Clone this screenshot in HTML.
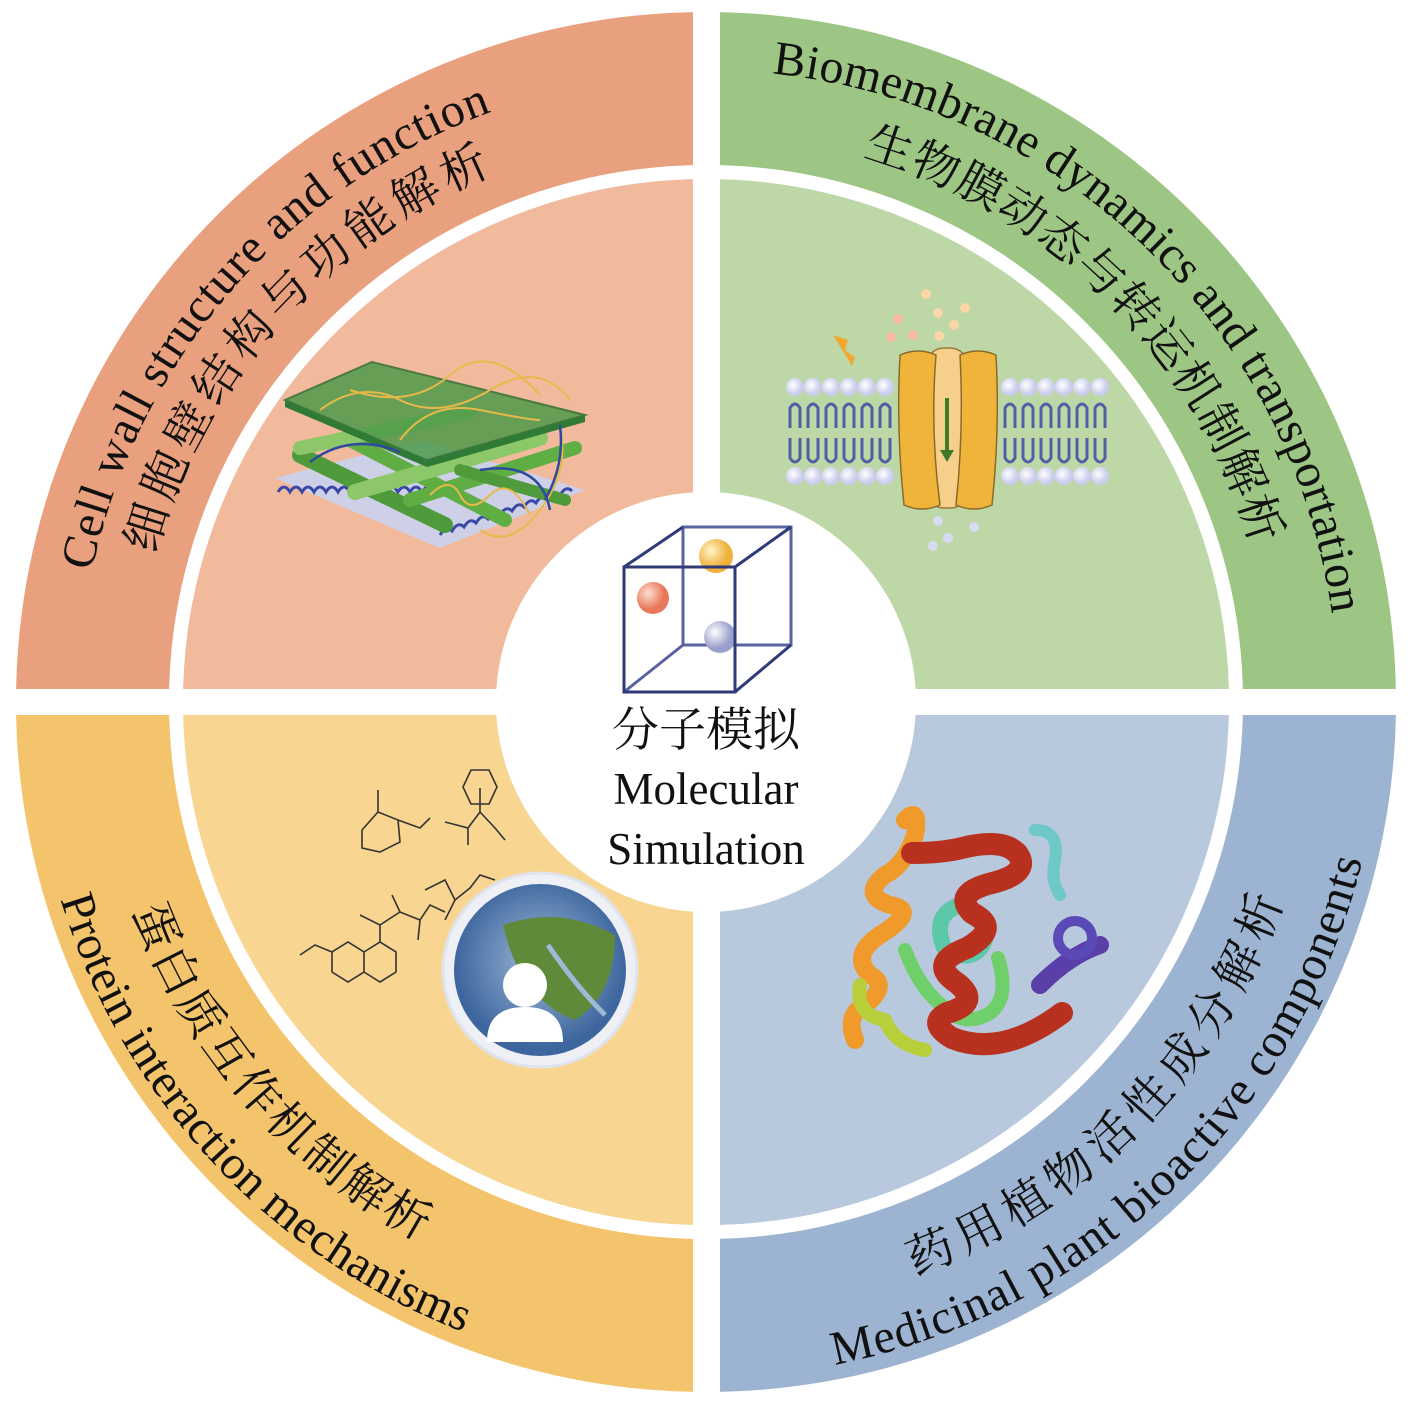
<!DOCTYPE html>
<html><head><meta charset="utf-8"><style>
html,body{margin:0;padding:0;background:#fff}
svg{display:block}
.en{font-family:"Liberation Serif",serif;font-size:48px;fill:#111}
.zh{font-family:"Liberation Serif","Noto Serif CJK SC","Noto Sans CJK SC",serif;font-size:47px;fill:#111}
</style></head><body>
<svg width="1417" height="1413" viewBox="0 0 1417 1413" xmlns="http://www.w3.org/2000/svg">
<defs>
<path id="p1" d="M91.7,571.4 A628,628 0 0 1 491.2,111.9"/>
<path id="p2" d="M155.4,554.5 A570,570 0 0 1 492.5,173.5"/>
<path id="p3" d="M772.1,73.5 A632,632 0 0 1 1331.9,614"/>
<path id="p4" d="M862.5,156 A568,568 0 0 1 1252,545.5"/>
<path id="p5" d="M60.5,899.4 A675,675 0 0 0 464.1,1332.2"/>
<path id="p6" d="M132.8,910.6 A610,610 0 0 0 419.6,1240.6"/>
<path id="p7" d="M834.8,1364.6 A675,675 0 0 0 1362.4,859.6"/>
<path id="p8" d="M914.6,1275.2 A610,610 0 0 0 1282.8,900.6"/>
<radialGradient id="gO" cx="0.35" cy="0.35"><stop offset="0" stop-color="#fff3c8"/><stop offset="1" stop-color="#f0b23c"/></radialGradient>
<radialGradient id="gR" cx="0.35" cy="0.35"><stop offset="0" stop-color="#fde0d0"/><stop offset="1" stop-color="#e9785a"/></radialGradient>
<radialGradient id="gV" cx="0.35" cy="0.35"><stop offset="0" stop-color="#ffffff"/><stop offset="1" stop-color="#9aa0cc"/></radialGradient>
<radialGradient id="gB" cx="0.5" cy="0.45"><stop offset="0" stop-color="#9fb8d8"/><stop offset="1" stop-color="#3d669e"/></radialGradient>
<radialGradient id="gH" cx="0.4" cy="0.4"><stop offset="0" stop-color="#fff"/><stop offset="1" stop-color="#c9ccec"/></radialGradient>
</defs>
<path d="M706,702 L16,702 A690,690 0 0 1 706,12 Z" fill="#E9A07E"/>
<path d="M706,702 L706,12 A690,690 0 0 1 1396,702 Z" fill="#9DC583"/>
<path d="M706,702 L1396,702 A690,690 0 0 1 706,1392 Z" fill="#9DB3D2"/>
<path d="M706,702 L706,1392 A690,690 0 0 1 16,702 Z" fill="#F3C46C"/>
<path d="M706,702 L183,702 A523,523 0 0 1 706,179 Z" fill="#F2BA9C"/>
<path d="M706,702 L706,179 A523,523 0 0 1 1229,702 Z" fill="#BDD8A6"/>
<path d="M706,702 L1229,702 A523,523 0 0 1 706,1225 Z" fill="#B8C9DE"/>
<path d="M706,702 L706,1225 A523,523 0 0 1 183,702 Z" fill="#F8D692"/>
<circle cx="706" cy="702" r="530" fill="none" stroke="#fff" stroke-width="14"/>
<rect x="693" y="0" width="27" height="1413" fill="#fff"/>
<rect x="0" y="689" width="1417" height="26" fill="#fff"/>
<circle cx="706" cy="702" r="210" fill="#fff"/>

<text class="en"><textPath href="#p1" textLength="636" lengthAdjust="spacing">Cell wall structure and function</textPath></text>
<text class="zh"><textPath href="#p2" textLength="527" lengthAdjust="spacing">细胞壁结构与功能解析</textPath></text>
<text class="en"><textPath href="#p3" textLength="838" lengthAdjust="spacing">Biomembrane dynamics and transportation</textPath></text>
<text class="zh"><textPath href="#p4" textLength="575" lengthAdjust="spacing">生物膜动态与转运机制解析</textPath></text>
<text class="en"><textPath href="#p5" textLength="612" lengthAdjust="spacing">Protein interaction mechanisms</textPath></text>
<text class="zh"><textPath href="#p6" textLength="447" lengthAdjust="spacing">蛋白质互作机制解析</textPath></text>
<text class="en"><textPath href="#p7" textLength="771" lengthAdjust="spacing">Medicinal plant bioactive components</textPath></text>
<text class="zh"><textPath href="#p8" textLength="543" lengthAdjust="spacing">药用植物活性成分解析</textPath></text>

<g stroke="#2f3a78" stroke-width="3" fill="none">
<rect x="683" y="527" width="108" height="118" stroke="#5a62a0"/>
<line x1="624" y1="567" x2="683" y2="527"/><line x1="735" y1="567" x2="791" y2="527"/>
<line x1="624" y1="692" x2="683" y2="645" stroke="#5a62a0"/><line x1="735" y1="692" x2="791" y2="645"/>
</g>
<circle cx="716" cy="556" r="17" fill="url(#gO)"/>
<circle cx="653" cy="598" r="16" fill="url(#gR)"/>
<circle cx="720" cy="637" r="16" fill="url(#gV)"/>
<rect x="624" y="567" width="111" height="125" fill="none" stroke="#2f3a78" stroke-width="3"/>
<text x="706" y="746" text-anchor="middle" style="font-family:'Liberation Serif','Noto Serif CJK SC',serif;font-size:47px;fill:#111">分子模拟</text>
<text x="706" y="804" text-anchor="middle" style="font-family:'Liberation Serif',serif;font-size:45px;fill:#111">Molecular</text>
<text x="706" y="864" text-anchor="middle" style="font-family:'Liberation Serif',serif;font-size:45px;fill:#111">Simulation</text>

<g>
<path d="M275,478 L420,440 L585,490 L440,548 Z" fill="#c9d3ee" opacity="0.9"/>
<g stroke="#3a49a6" stroke-width="3" fill="none">
<path d="M278,492 q6,-10 12,0 q6,-10 12,0 q6,-10 12,0 q6,-10 12,0 q6,-10 12,0 q6,-10 12,0 q6,-10 12,0 q6,-10 12,0 q6,-10 12,0 q6,-10 12,0 q6,-10 12,0 q6,-10 12,0 q6,-10 12,0 q6,-10 12,0"/>
<path d="M440,535 q6,-10 12,-4 q6,-10 12,-4 q6,-10 12,-4 q6,-10 12,-4 q6,-10 12,-4 q6,-10 12,-4 q6,-10 12,-4 q6,-10 12,-4 q6,-10 12,-4 q6,-10 12,-4 q6,-10 12,-4"/>
</g>
<g stroke-linecap="round">
<line x1="300" y1="455" x2="445" y2="525" stroke="#4f9a3a" stroke-width="16"/>
<line x1="350" y1="440" x2="505" y2="520" stroke="#5fae44" stroke-width="14"/>
<line x1="355" y1="492" x2="540" y2="438" stroke="#8cc86a" stroke-width="16"/>
<line x1="410" y1="500" x2="575" y2="448" stroke="#5fae44" stroke-width="14"/>
<line x1="300" y1="448" x2="470" y2="412" stroke="#8cc86a" stroke-width="14"/>
<line x1="460" y1="470" x2="565" y2="500" stroke="#4f9a3a" stroke-width="12"/>
</g>
<path d="M285,400 L372,362 L585,415 L427,460 Z" fill="#4e9a4a" opacity="0.85" stroke="#2e6e33" stroke-width="2"/>
<path d="M285,400 L427,460 L585,415 L585,422 L427,467 L285,407 Z" fill="#2f7a35"/>
<g stroke="#e8b94a" stroke-width="2" fill="none">
<path d="M320,410 q40,-30 80,-10 t90,-10 t80,10"/><path d="M350,390 q60,20 100,-15 t90,20"/><path d="M400,440 q30,-40 80,-30 t60,10"/>
<path d="M430,495 q20,-20 30,0 t30,0 t40,20"/><path d="M560,430 q10,40 -20,80 t-60,20"/>
</g>
<g stroke="#2d4aa0" stroke-width="2.5" fill="none"><path d="M310,462 q40,-30 90,-10"/><path d="M480,470 q60,-10 70,40"/><path d="M560,425 q5,40 -15,75"/></g>
</g>

<g>
<g fill="url(#gH)">
<circle cx="795" cy="387" r="9"/><circle cx="813" cy="387" r="9"/><circle cx="831" cy="387" r="9"/><circle cx="849" cy="387" r="9"/><circle cx="867" cy="387" r="9"/><circle cx="885" cy="387" r="9"/>
<circle cx="1010" cy="387" r="9"/><circle cx="1028" cy="387" r="9"/><circle cx="1046" cy="387" r="9"/><circle cx="1064" cy="387" r="9"/><circle cx="1082" cy="387" r="9"/><circle cx="1100" cy="387" r="9"/>
<circle cx="795" cy="476" r="9"/><circle cx="813" cy="476" r="9"/><circle cx="831" cy="476" r="9"/><circle cx="849" cy="476" r="9"/><circle cx="867" cy="476" r="9"/><circle cx="885" cy="476" r="9"/>
<circle cx="1010" cy="476" r="9"/><circle cx="1028" cy="476" r="9"/><circle cx="1046" cy="476" r="9"/><circle cx="1064" cy="476" r="9"/><circle cx="1082" cy="476" r="9"/><circle cx="1100" cy="476" r="9"/>
</g>
<g stroke="#4f5fa6" stroke-width="3" fill="none">
<path d="M790,428 v-20 q5,-8 10,0 v20 M808,428 v-20 q5,-8 10,0 v20 M826,428 v-20 q5,-8 10,0 v20 M844,428 v-20 q5,-8 10,0 v20 M862,428 v-20 q5,-8 10,0 v20 M880,428 v-20 q5,-8 10,0 v20"/>
<path d="M1005,428 v-20 q5,-8 10,0 v20 M1023,428 v-20 q5,-8 10,0 v20 M1041,428 v-20 q5,-8 10,0 v20 M1059,428 v-20 q5,-8 10,0 v20 M1077,428 v-20 q5,-8 10,0 v20 M1095,428 v-20 q5,-8 10,0 v20"/>
<path d="M790,438 v20 q5,8 10,0 v-20 M808,438 v20 q5,8 10,0 v-20 M826,438 v20 q5,8 10,0 v-20 M844,438 v20 q5,8 10,0 v-20 M862,438 v20 q5,8 10,0 v-20 M880,438 v20 q5,8 10,0 v-20"/>
<path d="M1005,438 v20 q5,8 10,0 v-20 M1023,438 v20 q5,8 10,0 v-20 M1041,438 v20 q5,8 10,0 v-20 M1059,438 v20 q5,8 10,0 v-20 M1077,438 v20 q5,8 10,0 v-20 M1095,438 v20 q5,8 10,0 v-20"/>
</g>
<rect x="926" y="348" width="42" height="160" rx="18" fill="#f6cf8a" stroke="#9a7a3a" stroke-width="1.5"/>
<path d="M900,355 q18,-8 36,0 q-6,75 4,150 q-18,8 -36,0 q-8,-75 -4,-150 Z" fill="#f0b43a" stroke="#8a6a2a" stroke-width="1.5"/>
<path d="M960,355 q18,-8 36,0 q4,75 -4,150 q-18,8 -36,0 q8,-75 4,-150 Z" fill="#f0b43a" stroke="#8a6a2a" stroke-width="1.5"/>
<line x1="947" y1="398" x2="947" y2="452" stroke="#3f7a2a" stroke-width="4"/>
<path d="M940,450 L947,462 L954,450 Z" fill="#3f7a2a"/>
<path d="M833,335 L848,340 L845,350 L882,377 L855,357 L852,366 Z" fill="#f0a830"/>
<g fill="#f8b9a2"><circle cx="898" cy="319" r="5"/><circle cx="913" cy="335" r="5"/><circle cx="891" cy="337" r="5"/></g>
<g fill="#fcd6a6"><circle cx="926" cy="294" r="5"/><circle cx="938" cy="313" r="5"/><circle cx="954" cy="325" r="5"/><circle cx="965" cy="308" r="5"/><circle cx="939" cy="336" r="5"/></g>
<g fill="#d8dbf3"><circle cx="938" cy="521" r="5"/><circle cx="974" cy="527" r="5"/><circle cx="948" cy="538" r="5"/><circle cx="933" cy="546" r="5"/></g>
</g>

<g stroke="#333" stroke-width="1.6" fill="none">
<path d="M362,830 L378,812 L398,820 L400,842 L380,852 L362,848 Z M378,812 L378,790 M398,820 L420,828 L430,818"/>
<path d="M445,822 L468,828 L468,845 M468,828 L480,812 L480,788 M480,812 L495,828 L505,840"/>
<path d="M463,787 L471,770 L489,770 L497,787 L489,804 L471,804 Z"/>
<path d="M300,955 L315,945 L332,952 M332,952 L332,972 L348,982 L364,972 L364,952 L348,942 Z M364,972 L380,982 L396,972 L396,952 L380,942 L364,952 M380,942 L380,925 L360,915 M380,925 L400,912 L420,920 L430,905 L445,912 M400,912 L392,895 M420,920 L418,940"/>
<path d="M425,890 L445,880 L455,900 L445,920 M455,900 L470,888 L480,875 L495,880"/>
</g>
<circle cx="540" cy="970" r="97" fill="#eef0f6" stroke="#dfe3ee" stroke-width="3"/>
<circle cx="540" cy="970" r="86" fill="url(#gB)"/>
<path d="M503,925 Q560,905 615,935 Q615,995 575,1020 Q520,1000 503,925 Z" fill="#5e8a3a"/>
<path d="M548,945 Q575,985 605,1015" stroke="#9fb8d8" stroke-width="5" fill="none"/>
<circle cx="525" cy="985" r="22" fill="#fff"/>
<path d="M487,1042 q0,-35 38,-35 q38,0 38,35 Z" fill="#fff"/>

<g fill="none" stroke-linecap="round" stroke-linejoin="round">
<path d="M905,950 q15,40 40,58 q20,20 45,5 q20,-15 8,-55" stroke="#6fcf6a" stroke-width="14"/>
<path d="M960,905 q-30,10 -15,45 q30,15 40,-10" stroke="#5cc8a8" stroke-width="16"/>
<path d="M1035,830 q25,0 20,30 q-5,20 5,35" stroke="#6ec8c8" stroke-width="12"/>
<path d="M905,820 q15,-15 10,15 q-10,30 -30,40 q-25,20 5,30 q30,5 -10,30 q-30,20 -10,40 q20,10 -5,30 q-20,10 -10,35" stroke="#ef9a2a" stroke-width="18"/>
<path d="M860,985 q-5,30 25,35 q10,25 40,30" stroke="#b7cf3a" stroke-width="14"/>
<path d="M912,853 q30,0 50,-5 q40,-10 55,5 q15,20 -25,30 q-40,10 -20,30 q30,15 -5,35 q-40,15 -10,35 q25,20 -10,30 q-20,10 5,25 q50,20 110,-25" stroke="#b8301e" stroke-width="22"/>
<path d="M1040,985 q30,-30 60,-40" stroke="#5a3fa8" stroke-width="18"/>
<circle cx="1075" cy="938" r="17" stroke="#5a4ab8" stroke-width="10"/>
</g>
</svg>
</body></html>
